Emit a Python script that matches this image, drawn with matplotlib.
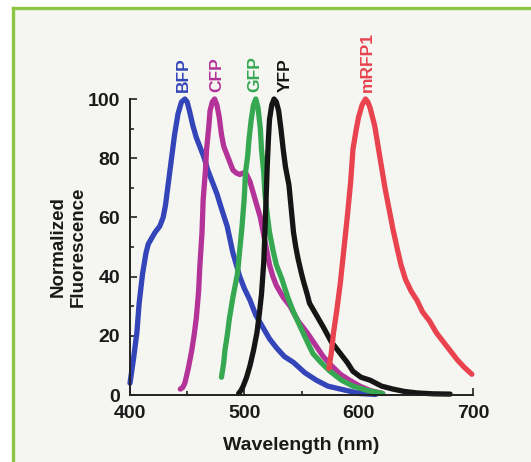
import matplotlib
matplotlib.use("Agg")
import matplotlib.pyplot as plt
from matplotlib.lines import Line2D
from matplotlib.patches import Rectangle
from matplotlib.ticker import MultipleLocator

plt.rcParams['font.family'] = ['Liberation Sans', 'DejaVu Sans']

# ---- data ----
bfp_x = [400, 403, 406, 408, 411, 414, 416, 419, 422, 426, 429, 431, 433, 436, 439, 442,
         445, 448, 450, 452, 455, 458, 461, 465, 468, 472, 476, 480, 485, 490, 496, 500,
         505, 510, 516, 522, 528, 535, 543, 553, 563, 573, 584, 601, 615]
bfp_y = [4, 12, 21, 31, 41, 48, 51, 53, 55, 57, 60, 64, 70, 79, 88, 95,
         99, 100, 99, 96, 91, 87, 84, 80, 76, 72, 68, 63, 57, 48, 40, 36,
         32, 27, 23, 19, 16, 13, 11, 7.5, 5, 3, 2, 0.5, 0.2]

cfp_x = [444, 446, 448, 451, 454, 456, 458, 460, 461, 463, 464, 466, 467, 469, 470, 472,
         474, 476, 478, 480, 482, 485, 488, 490, 493, 496, 499, 502, 505, 508, 511, 514,
         516, 519, 522, 525, 528, 534, 540, 547, 555, 562, 569, 576, 584, 592, 601, 610, 621]
cfp_y = [2, 2.5, 4, 9, 15, 20, 26, 35, 43, 55, 66, 76, 83, 91, 96, 99,
         100, 98, 94, 88, 84, 81, 78, 76, 75, 74.5, 75, 74.5, 72, 68, 64, 60,
         56, 50, 44, 40, 37, 33, 30, 25, 21, 17, 13, 10, 7, 5, 3, 1.5, 0.5]

gfp_x = [480, 482, 483, 485, 487, 490, 494, 496, 498, 500, 501, 503, 504, 506, 508, 510,
         512, 514, 515, 517, 518, 520, 522, 525, 528, 533, 538, 543, 549, 555, 560, 567,
         575, 585, 595, 608, 621]
gfp_y = [6, 11, 15, 20, 26, 33, 41, 49, 57, 67, 75, 81, 86, 93, 98, 100,
         97, 90, 83, 75, 68, 61, 55, 49, 44, 39, 33, 28, 23, 18, 14, 11,
         8, 5, 3, 1.5, 0.5]

yfp_x = [495, 497, 499, 502, 505, 508, 511, 513, 515, 517, 518, 519, 520, 521, 522, 524,
         526, 528, 530, 532, 534, 536, 539, 541, 543, 545, 547, 550, 552, 555, 557, 563,
         569, 576, 584, 590, 595, 602, 610, 620, 630, 640, 651, 665, 680]
yfp_y = [0.5, 1.5, 3, 6, 10, 15, 21, 27, 34, 45, 55, 66, 77, 86, 93, 98,
         100, 99, 96, 90, 83, 77, 71, 63, 55, 50, 46, 41, 38, 34, 31, 27,
         23, 18, 14, 11, 8, 6, 5, 3, 2, 1.2, 0.7, 0.4, 0.3]

rfp_x = [574, 576, 578, 581, 584, 587, 590, 593, 595, 598, 600, 603, 606, 608, 610, 612,
         614, 617, 620, 623, 626, 630, 634, 637, 641, 646, 651, 656, 662, 668, 674, 680,
         686, 692, 699]
rfp_y = [9, 14, 21, 29, 38, 49, 60, 72, 83, 90, 94, 98, 100, 99, 97, 94,
         91, 84, 77, 70, 64, 56, 49, 44, 39, 35, 32, 28, 25, 21, 18, 15,
         12, 9.5, 7]

names = ['BFP', 'CFP', 'GFP', 'YFP', 'mRFP1']
label_x = [447, 476, 509, 536, 608]
colors = ['#3345b8', '#b33399', '#36a852', '#151515', '#e8434f']

x_ticks = [400, 500, 600, 700]
y_ticks = [0, 20, 40, 60, 80, 100]

# ---- figure ----
W, H = 531, 462
fig = plt.figure(figsize=(W / 100, H / 100), dpi=100)
fig.patch.set_facecolor('white')

# paper background and green frame
fig.add_artist(Rectangle((12.5 / W, 0), 1 - 12.5 / W, 1 - 7.5 / H,
                         transform=fig.transFigure, facecolor='#f5f5f1',
                         edgecolor='none', zorder=-10))
frame_col = '#8dc642'
fig.add_artist(Line2D([12.5 / W, 12.5 / W], [0, 1 - 7.5 / H], transform=fig.transFigure,
                      color=frame_col, lw=2.4, zorder=-5))
fig.add_artist(Line2D([12.5 / W, 1], [1 - 7.5 / H, 1 - 7.5 / H], transform=fig.transFigure,
                      color=frame_col, lw=2.4, zorder=-5))

ax = fig.add_axes([130 / W, 1 - 395 / H, (473 - 130) / W, (395 - 99) / H])
ax.set_facecolor('none')

series = [(bfp_x, bfp_y), (cfp_x, cfp_y), (gfp_x, gfp_y), (yfp_x, yfp_y), (rfp_x, rfp_y)]
for (xs, ys), c in zip(series, colors):
    ax.plot(xs, ys, color=c, lw=3.8, solid_capstyle='round', solid_joinstyle='round',
            clip_on=False)

for name, lx, c in zip(names, label_x, colors):
    ax.text(lx, 102.5, name, rotation=90, ha='center', va='bottom', color=c,
            fontsize=12.5, fontweight='bold')

ax.set_xlim(400, 700)
ax.set_ylim(0, 100)
ax.set_xticks(x_ticks)
ax.set_yticks(y_ticks)
ax.xaxis.set_minor_locator(MultipleLocator(50))
ax.yaxis.set_minor_locator(MultipleLocator(10))
for s in ['top', 'right']:
    ax.spines[s].set_visible(False)
for s in ['left', 'bottom']:
    ax.spines[s].set_linewidth(1.4)
    ax.spines[s].set_color('#222222')
ax.tick_params(which='both', direction='in', color='#222222', width=1.2)
ax.tick_params(which='major', length=5, labelsize=14, pad=7)
ax.tick_params(which='minor', length=3)
ax.tick_params(axis='x', which='both', top=False)
ax.tick_params(axis='y', which='both', right=False)
for lab in ax.get_xticklabels() + ax.get_yticklabels():
    lab.set_fontweight('bold')
    lab.set_color('#1a1a1a')

ax.set_xlabel('Wavelength (nm)', fontsize=14, fontweight='bold', color='#1a1a1a',
              labelpad=11)
fig.text(68.5 / W, 1 - 247 / H, 'Normalized\nFluorescence', rotation=90,
         ha='center', va='center', fontsize=13.5, fontweight='bold',
         color='#1a1a1a', linespacing=1.25, multialignment='center')

fig.savefig('out.png', dpi=100, facecolor=fig.get_facecolor())
